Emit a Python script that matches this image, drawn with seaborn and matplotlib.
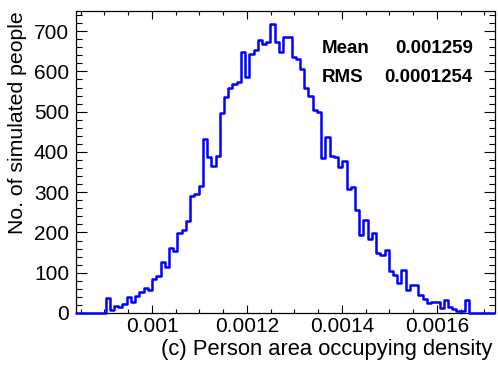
import numpy as np
import pandas as pd
import matplotlib
matplotlib.use("Agg")
import matplotlib.pyplot as plt
import seaborn as sns
from matplotlib.ticker import MultipleLocator, FixedLocator, FixedFormatter

# ---------------- data ----------------
bin_start = 0.00084
bin_width = 8.9e-6
counts = [0, 0, 0, 0, 0, 0, 0,
          38, 8, 18, 15, 22, 39, 28, 43, 52, 63,
          58, 84, 91, 127, 113, 162, 155, 198, 205, 228,
          291, 295, 315, 431, 388, 365, 391, 497, 536, 560,
          568, 573, 648, 585, 643, 653, 677, 667, 673, 717,
          673, 648, 685, 685, 635, 630, 607, 558, 540, 505,
          498, 385, 437, 390, 387, 362, 378, 308, 313, 257,
          194, 231, 184, 198, 150, 144, 156, 105, 95, 75,
          108, 57, 70, 70, 45, 36, 26, 28, 28, 12,
          32, 14, 10, 5, 5, 32,
          0, 0, 0, 0, 0, 0]
x_ticks = [0.001, 0.0012, 0.0014, 0.0016]
x_tick_labels = ["0.001", "0.0012", "0.0014", "0.0016"]
y_ticks = [0, 100, 200, 300, 400, 500, 600, 700]
x_title = "(c) Person area occupying density"
y_title = "No. of simulated people"
stat_names = ["Mean", "RMS"]
stat_values = ["0.001259", "0.0001254"]

edges = bin_start + bin_width * np.arange(len(counts) + 1)
centers = 0.5 * (edges[:-1] + edges[1:])
df = pd.DataFrame({"density": centers, "people": counts})

# ---------------- style ----------------
sns.set_style("ticks")
plt.rcParams["font.family"] = ["Liberation Sans", "DejaVu Sans"]
plt.rcParams["text.color"] = "black"
plt.rcParams["axes.labelcolor"] = "black"
plt.rcParams["xtick.color"] = "black"
plt.rcParams["ytick.color"] = "black"

fig = plt.figure(figsize=(4.98, 3.66), dpi=100)
ax = fig.add_axes([76 / 498, 1 - 313 / 366, 418.5 / 498, 302 / 366])

sns.histplot(data=df, x="density", weights="people", bins=list(edges),
             element="step", fill=False, color="#0000ff", linewidth=1.8,
             ax=ax)
for ln in ax.lines:
    ln.set_zorder(3)
    ln.set_clip_on(False)
for p in ax.patches:
    p.set_zorder(3)
    p.set_clip_on(False)

ax.set_xlim(edges[0], edges[-1])
ax.set_ylim(0, 750)

ax.xaxis.set_major_locator(FixedLocator(x_ticks))
ax.xaxis.set_major_formatter(FixedFormatter(x_tick_labels))
ax.xaxis.set_minor_locator(MultipleLocator(0.00005))
ax.yaxis.set_major_locator(FixedLocator(y_ticks))
ax.yaxis.set_minor_locator(MultipleLocator(20))

for s in ax.spines.values():
    s.set_visible(True)
    s.set_linewidth(0.9)
    s.set_color("black")

ax.tick_params(axis="x", which="major", direction="in", length=6, width=0.8,
               top=True, bottom=True, labelsize=15, pad=3,
               color="black", labelcolor="black")
ax.tick_params(axis="x", which="minor", direction="in", length=3, width=0.8,
               top=True, bottom=True, color="black")
ax.tick_params(axis="y", which="major", direction="in", length=8, width=0.8,
               left=True, right=True, labelsize=15, pad=5,
               color="black", labelcolor="black")
ax.tick_params(axis="y", which="minor", direction="in", length=4, width=0.8,
               left=True, right=True, color="black")

ax.set_xlabel(x_title, fontsize=15.8, loc="right", color="black")
ax.xaxis.set_label_coords(0.995, -0.086)
ax.set_ylabel(y_title, fontsize=15.3, loc="top", color="black")
ax.yaxis.set_label_coords(-0.118, 1.0)

for i, (n, v) in enumerate(zip(stat_names, stat_values)):
    yb = 0.86 - i * 0.096
    ax.text(0.587, yb, n, transform=ax.transAxes, fontsize=13.5,
            fontweight="bold", ha="left", va="baseline", color="black")
    ax.text(0.948, yb, v, transform=ax.transAxes, fontsize=13.5,
            fontweight="bold", ha="right", va="baseline", color="black")

fig.savefig("out.png", dpi=100)
